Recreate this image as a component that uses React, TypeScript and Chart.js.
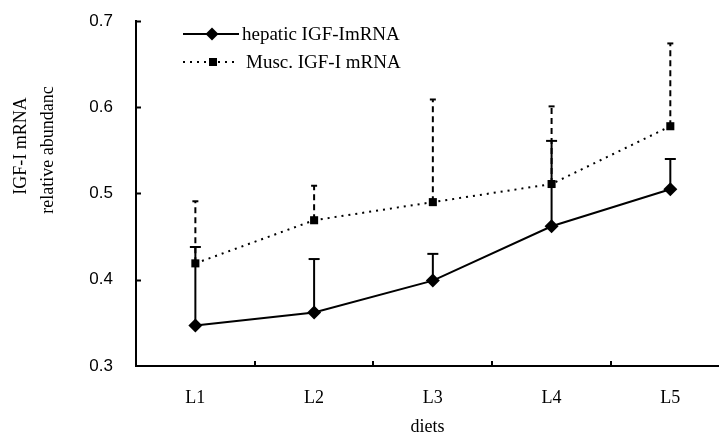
import { useEffect, useRef } from "react";
import { Chart, registerables } from "chart.js";
Chart.register(...registerables);

const categories = ["L1", "L2", "L3", "L4", "L5"];
const xPositions = [1, 2, 3, 4, 5];
const hepatic = [0.347, 0.362, 0.399, 0.462, 0.505];
const hepaticErr = [0.091, 0.062, 0.031, 0.099, 0.035];
const musc = [0.419, 0.469, 0.49, 0.511, 0.578];
const muscErr = [0.072, 0.04, 0.119, 0.09, 0.096];
const yTickValues = [0.3, 0.4, 0.5, 0.6, 0.7];
const seriesNames = ["hepatic IGF-ImRNA", "Musc. IGF-I mRNA"];
const yTitleLines = ["IGF-I mRNA", "relative abundanc"];
const xTitle = "diets";

const SERIF = "'Liberation Serif', 'Times New Roman', serif";
const SANS = "'Liberation Sans', Arial, sans-serif";

export default function App() {
  const ref = useRef<HTMLCanvasElement | null>(null);

  useEffect(() => {
    const canvas = ref.current;
    if (!canvas) return;

    const errs = [hepaticErr, muscErr];

    const errorBars = {
      id: "errorBars",
      beforeDatasetsDraw(chart: any) {
        const { ctx } = chart;
        const xs = chart.scales.x;
        const ys = chart.scales.y;
        ctx.save();
        chart.data.datasets.forEach((ds: any, di: number) => {
          const e = errs[di];
          ds.data.forEach((p: any, i: number) => {
            const px = xs.getPixelForValue(p.x);
            const py = ys.getPixelForValue(p.y);
            const pt = ys.getPixelForValue(p.y + e[i]);
            ctx.strokeStyle = "#000";
            ctx.lineWidth = 2;
            ctx.setLineDash(di === 0 ? [] : [6, 4]);
            ctx.beginPath();
            ctx.moveTo(px, py);
            ctx.lineTo(px, pt);
            ctx.stroke();
            ctx.setLineDash([]);
            const half = di === 0 ? 5.5 : 3;
            ctx.beginPath();
            ctx.moveTo(px - half, pt);
            ctx.lineTo(px + half, pt);
            ctx.stroke();
          });
        });
        ctx.restore();
      },
    };

    const decorations = {
      id: "decorations",
      afterDraw(chart: any) {
        const { ctx, chartArea } = chart;
        const xs = chart.scales.x;
        const ys = chart.scales.y;
        ctx.save();
        ctx.strokeStyle = "#000";
        ctx.lineWidth = 2;
        // inside tick marks on y axis
        yTickValues.slice(1).forEach((v) => {
          const py = Math.round(ys.getPixelForValue(v)) + 0.5;
          ctx.beginPath();
          ctx.moveTo(chartArea.left, py);
          ctx.lineTo(chartArea.left + 5, py);
          ctx.stroke();
        });
        // inside tick marks on x axis at category boundaries
        for (let i = 0; i < categories.length - 1; i++) {
          const px = Math.round(xs.getPixelForValue(xPositions[i] + 0.5));
          ctx.beginPath();
          ctx.moveTo(px, chartArea.bottom);
          ctx.lineTo(px, chartArea.bottom - 5);
          ctx.stroke();
        }
        // y title
        ctx.fillStyle = "#000";
        ctx.font = `18px ${SERIF}`;
        ctx.textAlign = "center";
        ctx.textBaseline = "middle";
        const pos = [
          [21, 146],
          [48, 150],
        ];
        yTitleLines.forEach((t, i) => {
          ctx.save();
          ctx.translate(pos[i][0], pos[i][1]);
          ctx.rotate(-Math.PI / 2);
          ctx.fillText(t, 0, 0);
          ctx.restore();
        });
        // legend
        const rows = [34, 62];
        chart.data.datasets.forEach((ds: any, i: number) => {
          const y = rows[i];
          ctx.strokeStyle = "#000";
          ctx.lineWidth = 2;
          ctx.setLineDash(ds.borderDash || []);
          ctx.beginPath();
          ctx.moveTo(183, y);
          ctx.lineTo(239, y);
          ctx.stroke();
          ctx.setLineDash([]);
          ctx.fillStyle = "#000";
          if (ds.pointStyle === "rectRot") {
            ctx.beginPath();
            ctx.moveTo(212, y - 6.5);
            ctx.lineTo(218.5, y);
            ctx.lineTo(212, y + 6.5);
            ctx.lineTo(205.5, y);
            ctx.closePath();
            ctx.fill();
          } else {
            ctx.fillRect(209, y - 4, 8, 8);
          }
          ctx.font = `19px ${SERIF}`;
          ctx.textAlign = "left";
          ctx.textBaseline = "middle";
          ctx.fillText(ds.label, i === 0 ? 242 : 246, y + 1);
        });
        ctx.restore();
      },
    };

    const chart = new Chart(canvas, {
      type: "line",
      data: {
        datasets: [
          {
            label: seriesNames[0],
            data: xPositions.map((x, i) => ({ x, y: hepatic[i] })),
            borderColor: "#000",
            backgroundColor: "#000",
            borderWidth: 2,
            pointStyle: "rectRot",
            pointRadius: 7,
            pointBorderWidth: 0,
            pointBackgroundColor: "#000",
          },
          {
            label: seriesNames[1],
            data: xPositions.map((x, i) => ({ x, y: musc[i] })),
            borderColor: "#000",
            backgroundColor: "#000",
            borderWidth: 2,
            borderDash: [2, 5],
            pointStyle: "rect",
            pointRadius: 5.7,
            pointBorderWidth: 0,
            pointBackgroundColor: "#000",
          },
        ],
      },
      options: {
        responsive: false,
        animation: false,
        layout: { autoPadding: false, padding: { top: 21, left: 0, right: 0, bottom: 0 } },
        plugins: {
          legend: { display: false },
          tooltip: { enabled: false },
        },
        scales: {
          x: {
            type: "linear",
            min: 0.5,
            max: 5.41,
            afterBuildTicks: (s: any) => {
              s.ticks = xPositions.map((v) => ({ value: v }));
            },
            afterFit: (s: any) => {
              s.height = 68;
              s.paddingLeft = 0;
              s.paddingRight = 0;
            },
            ticks: {
              callback: (v: any) => categories[Math.round(Number(v)) - 1] ?? "",
              color: "#000",
              font: { family: SERIF, size: 18 },
              padding: 21,
              maxRotation: 0,
              autoSkip: false,
            },
            grid: { display: false, drawTicks: false },
            border: { display: true, color: "#000", width: 2 },
            title: {
              display: true,
              text: xTitle,
              color: "#000",
              font: { family: SERIF, size: 18, lineHeight: 0.8 },
              padding: 0,
            },
          },
          y: {
            type: "linear",
            min: yTickValues[0],
            max: yTickValues[yTickValues.length - 1],
            afterBuildTicks: (s: any) => {
              s.ticks = yTickValues.map((v) => ({ value: v }));
            },
            afterFit: (s: any) => {
              s.width = 136;
              s.paddingTop = 0;
              s.paddingBottom = 0;
            },
            ticks: {
              callback: (v: any) => Number(v).toFixed(1),
              color: "#000",
              font: { family: SANS, size: 17 },
              padding: 23,
            },
            grid: { display: false, drawTicks: false },
            border: { display: true, color: "#000", width: 2 },
          },
        },
      },
      plugins: [errorBars, decorations],
    });

    return () => chart.destroy();
  }, []);

  return (
    <div style={{ position: "fixed", left: 0, top: 0, width: 719, height: 434, background: "#fff" }}>
      <canvas ref={ref} width={719} height={434} />
    </div>
  );
}
